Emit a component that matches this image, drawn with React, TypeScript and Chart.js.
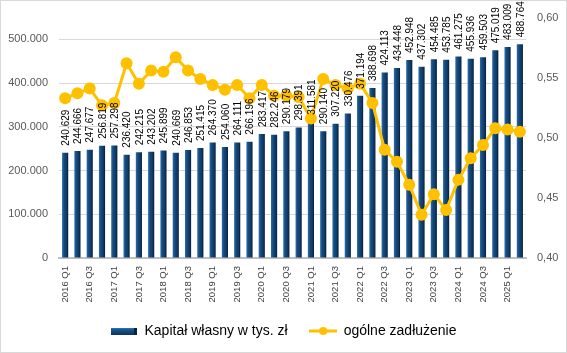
import React, { useEffect, useRef } from 'react';
import { Chart, registerables } from 'chart.js';

Chart.register(...registerables);

const categories = [
  '2016 Q1', '2016 Q2', '2016 Q3', '2016 Q4',
  '2017 Q1', '2017 Q2', '2017 Q3', '2017 Q4',
  '2018 Q1', '2018 Q2', '2018 Q3', '2018 Q4',
  '2019 Q1', '2019 Q2', '2019 Q3', '2019 Q4',
  '2020 Q1', '2020 Q2', '2020 Q3', '2020 Q4',
  '2021 Q1', '2021 Q2', '2021 Q3', '2021 Q4',
  '2022 Q1', '2022 Q2', '2022 Q3', '2022 Q4',
  '2023 Q1', '2023 Q2', '2023 Q3', '2023 Q4',
  '2024 Q1', '2024 Q2', '2024 Q3', '2024 Q4',
  '2025 Q1', '2025 Q2',
];

const equity = [
  240629, 244666, 247677, 256819, 257298, 236420, 242215, 243202,
  245899, 240669, 246853, 251415, 264370, 254060, 264111, 266196,
  283417, 282246, 290179, 298391, 311581, 290140, 307220, 330476,
  371194, 388698, 424113, 434448, 452948, 437302, 454485, 453785,
  461275, 455936, 459503, 475019, 483009, 488764,
];

const debtRatio = [
  0.533, 0.537, 0.541, 0.527, 0.529, 0.562, 0.545, 0.556,
  0.555, 0.567, 0.556, 0.549, 0.544, 0.540, 0.544, 0.533,
  0.544, 0.535, 0.535, 0.534, 0.516, 0.549, 0.544, 0.541,
  0.545, 0.529, 0.490, 0.480, 0.461, 0.436, 0.453, 0.440,
  0.465, 0.483, 0.494, 0.508, 0.507, 0.505,
];

const leftTicks = [0, 100000, 200000, 300000, 400000, 500000];
const rightTicks = [0.4, 0.45, 0.5, 0.55, 0.6];

const seriesNames = ['Kapitał własny w tys. zł', 'ogólne zadłużenie'];

const FONT = '"Liberation Sans", Arial, sans-serif';

const fmtThousands = (v: number) =>
  Math.round(v).toString().replace(/\B(?=(\d{3})+(?!\d))/g, '.');
const fmtRatio = (v: number) => Number(v).toFixed(2).replace('.', ',');

function makeBarIcon() {
  const c = document.createElement('canvas');
  c.width = 26;
  c.height = 7;
  const g = c.getContext('2d')!;
  const grad = g.createLinearGradient(0, 0, 0, 7);
  grad.addColorStop(0, '#3a7cc0');
  grad.addColorStop(0.35, '#1a5290');
  grad.addColorStop(1, '#0c3560');
  g.fillStyle = grad;
  g.fillRect(0, 0, 26, 7);
  g.fillStyle = '#082440';
  g.fillRect(23, 0, 3, 7);
  return c;
}

function makeLineIcon() {
  const c = document.createElement('canvas');
  c.width = 28;
  c.height = 10;
  const g = c.getContext('2d')!;
  g.strokeStyle = '#FFC000';
  g.lineWidth = 3;
  g.beginPath();
  g.moveTo(0, 5);
  g.lineTo(28, 5);
  g.stroke();
  g.fillStyle = '#FFC000';
  g.beginPath();
  g.arc(14, 5, 4, 0, Math.PI * 2);
  g.fill();
  return c;
}

const frame = {
  id: 'frame',
  beforeDraw(chart: any) {
    const ctx = chart.ctx;
    ctx.save();
    ctx.fillStyle = '#ffffff';
    ctx.fillRect(0, 0, chart.width, chart.height);
    ctx.strokeStyle = '#d9d9d9';
    ctx.lineWidth = 1;
    ctx.strokeRect(0.5, 0.5, chart.width - 1, chart.height - 1);
    ctx.restore();
  },
};

const barLabels = {
  id: 'barLabels',
  afterDatasetsDraw(chart: any) {
    const meta = chart.getDatasetMeta(0);
    const ctx = chart.ctx;
    ctx.save();
    ctx.font = `10px ${FONT}`;
    ctx.fillStyle = '#000000';
    ctx.textAlign = 'left';
    ctx.textBaseline = 'middle';
    meta.data.forEach((el: any, i: number) => {
      const { x, y } = el.getProps(['x', 'y'], true);
      ctx.save();
      ctx.translate(x + 1, y - 7);
      ctx.rotate(-Math.PI / 2);
      ctx.fillText(fmtThousands(equity[i]), 0, 0);
      ctx.restore();
    });
    ctx.restore();
  },
};

export default function App() {
  const ref = useRef<HTMLCanvasElement | null>(null);

  useEffect(() => {
    document.body.style.margin = '0';
    if (!ref.current) return;
    const barIcon = makeBarIcon();
    const lineIcon = makeLineIcon();

    const chart = new Chart(ref.current, {
      type: 'bar',
      data: {
        labels: categories,
        datasets: [
          {
            type: 'bar',
            label: seriesNames[0],
            data: equity,
            yAxisID: 'y',
            order: 1,
            barPercentage: 0.5,
            categoryPercentage: 1,
            backgroundColor: (c: any) => {
              const ch = c.chart;
              const xs = ch.scales && ch.scales.x;
              if (!xs || c.dataIndex == null) return '#123f6b';
              const x = xs.getPixelForValue(c.dataIndex);
              const g = ch.ctx.createLinearGradient(x - 3, 0, x + 3, 0);
              g.addColorStop(0, '#2b6cab');
              g.addColorStop(0.35, '#16497c');
              g.addColorStop(0.75, '#0e3863');
              g.addColorStop(1, '#061c35');
              return g;
            },
            borderWidth: 0,
          } as any,
          {
            type: 'line',
            label: seriesNames[1],
            data: debtRatio,
            yAxisID: 'y1',
            order: 0,
            borderColor: '#FFC000',
            backgroundColor: '#FFC000',
            borderWidth: 3,
            pointRadius: 6,
            pointBackgroundColor: '#FFC000',
            pointBorderWidth: 0,
            tension: 0,
          } as any,
        ],
      },
      options: {
        animation: false,
        responsive: false,
        devicePixelRatio: 1,
        layout: { padding: { top: 15, right: 0, bottom: 5, left: 0 } },
        plugins: {
          tooltip: { enabled: false },
          legend: {
            position: 'bottom',
            labels: {
              usePointStyle: true,
              pointStyleWidth: 27,
              padding: 22,
              color: '#000000',
              font: { size: 14, family: FONT },
              generateLabels: () => [
                {
                  text: seriesNames[0],
                  pointStyle: barIcon as any,
                  fillStyle: '#16497c',
                  strokeStyle: '#16497c',
                  lineWidth: 0,
                  hidden: false,
                  datasetIndex: 0,
                  fontColor: '#000000',
                } as any,
                {
                  text: seriesNames[1],
                  pointStyle: lineIcon as any,
                  fillStyle: '#FFC000',
                  strokeStyle: '#FFC000',
                  lineWidth: 0,
                  hidden: false,
                  datasetIndex: 1,
                  fontColor: '#000000',
                } as any,
              ],
            },
          },
        },
        scales: {
          x: {
            offset: true,
            grid: { display: false, drawTicks: false },
            border: { display: true, color: '#bfbfbf', width: 2 },
            ticks: {
              autoSkip: false,
              maxRotation: 90,
              minRotation: 90,
              padding: 8,
              color: '#404040',
              font: { size: 9.5, family: FONT },
              callback: (_v: any, i: number) => (i % 2 === 0 ? categories[i] : ''),
            },
            afterFit: (s: any) => {
              s.height = 44;
            },
          },
          y: {
            position: 'left',
            min: 0,
            max: 550000,
            grid: { color: '#d9d9d9', drawTicks: false, lineWidth: 1 },
            border: { display: false },
            afterBuildTicks: (s: any) => {
              s.ticks = leftTicks.map((v) => ({ value: v }));
            },
            ticks: {
              padding: 11,
              color: '#595959',
              font: { size: 11, family: FONT },
              callback: (v: any) => fmtThousands(Number(v)),
            },
            afterFit: (s: any) => {
              s.width = 59;
            },
          },
          y1: {
            position: 'right',
            min: 0.4,
            max: 0.6,
            grid: { display: false, drawTicks: false },
            border: { display: false },
            afterBuildTicks: (s: any) => {
              s.ticks = rightTicks.map((v) => ({ value: v }));
            },
            ticks: {
              padding: 11,
              color: '#595959',
              font: { size: 11, family: FONT },
              callback: (v: any) => fmtRatio(Number(v)),
            },
            afterFit: (s: any) => {
              s.width = 41;
            },
          },
        },
      } as any,
      plugins: [frame, barLabels],
    });

    return () => chart.destroy();
  }, []);

  return (
    <div style={{ width: 567, height: 353, position: 'relative' }}>
      <canvas ref={ref} width={567} height={353} style={{ display: 'block', width: 567, height: 353 }} />
    </div>
  );
}
